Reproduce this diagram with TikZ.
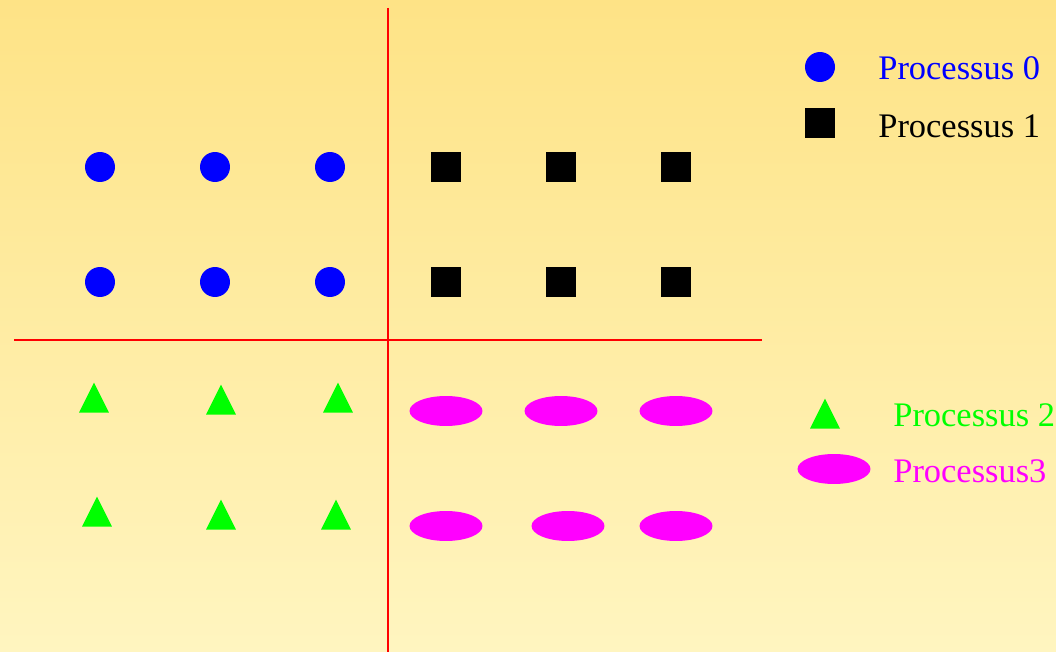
\documentclass[tikz,border=0pt]{standalone}
\usepackage{fontspec}
\setmainfont{Liberation Serif}
\usetikzlibrary{shapes.geometric}
\definecolor{bgtop}{HTML}{FEE386}
\definecolor{bgbot}{HTML}{FFF5C0}
\definecolor{pblue}{HTML}{0000FF}
\definecolor{pgreen}{HTML}{00FF00}
\definecolor{pmag}{HTML}{FF00FF}
\definecolor{pred}{HTML}{FF0000}
\tikzset{
  p0/.style={circle, fill=pblue, minimum size=0.6cm, inner sep=0pt},
  p1/.style={rectangle, fill=black, minimum size=0.6cm, inner sep=0pt},
  p2/.style={isosceles triangle, shape border rotate=90, isosceles triangle stretches=true, fill=pgreen, minimum width=0.6cm, minimum height=0.6cm, inner sep=0pt, anchor=south},
  p3/.style={ellipse, fill=pmag, minimum width=1.46cm, minimum height=0.6cm, inner sep=0pt},
  sep/.style={draw=pred, line width=0.6pt},
  lbl/.style={anchor=base west, inner sep=0pt, font=\fontsize{19.6pt}{22pt}\selectfont}
}
\begin{document}
\begin{tikzpicture}[x=0.02cm,y=-0.02cm]
\shade[top color=bgtop, bottom color=bgbot] (0,0) rectangle (1056,652);
\useasboundingbox (0,0) rectangle (1056,652);
% separators
\coordinate (vt) at (388,8);
\coordinate (vb) at (388,652);
\coordinate (hl) at (14,340);
\coordinate (hr) at (762,340);
\draw[sep] (vt) -- (vb);
\draw[sep] (hl) -- (hr);
% process 0
\node[p0] (a1) at (100,167) {};
\node[p0] (a2) at (215,167) {};
\node[p0] (a3) at (330,167) {};
\node[p0] (a4) at (100,282) {};
\node[p0] (a5) at (215,282) {};
\node[p0] (a6) at (330,282) {};
% process 1
\node[p1] (b1) at (446,167) {};
\node[p1] (b2) at (561,167) {};
\node[p1] (b3) at (676,167) {};
\node[p1] (b4) at (446,282) {};
\node[p1] (b5) at (561,282) {};
\node[p1] (b6) at (676,282) {};
% process 2 (positioned by base midpoint)
\node[p2] (c1) at (94,413) {};
\node[p2] (c2) at (221,415) {};
\node[p2] (c3) at (338,413) {};
\node[p2] (c4) at (97,527) {};
\node[p2] (c5) at (221,530) {};
\node[p2] (c6) at (336,530) {};
% process 3
\node[p3] (d1) at (446,411) {};
\node[p3] (d2) at (561,411) {};
\node[p3] (d3) at (676,411) {};
\node[p3] (d4) at (446,526) {};
\node[p3] (d5) at (568,526) {};
\node[p3] (d6) at (676,526) {};
% legend
\node[p0] (l0) at (820,67) {};
\node[p1] (l1) at (820,123) {};
\node[p2] (l2) at (825,429) {};
\node[p3] (l3) at (834,469) {};
\node[lbl, text=pblue] (t0) at (878,80) {Processus 0};
\node[lbl, text=black] (t1) at (878,138) {Processus 1};
\node[lbl, text=pgreen] (t2) at (893,426) {Processus 2};
\node[lbl, text=pmag] (t3) at (893,482) {Processus3};
\end{tikzpicture}
\end{document}
